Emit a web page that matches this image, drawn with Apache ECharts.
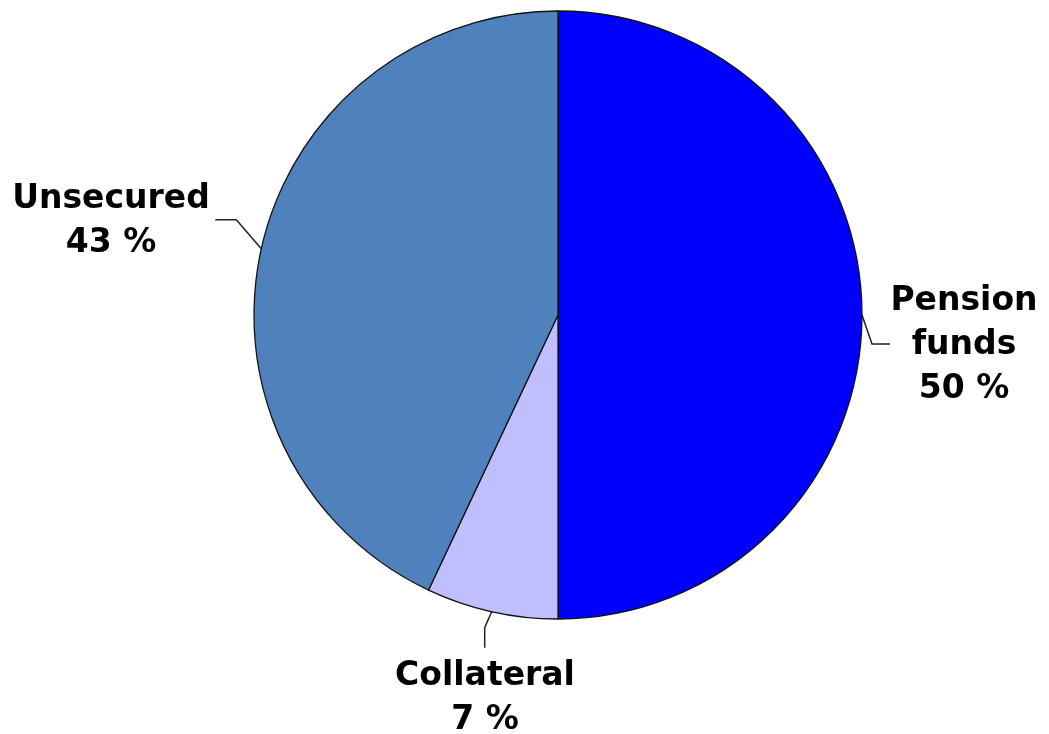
<!DOCTYPE html>
<html>
<head>
<meta charset="utf-8">
<title>Funding breakdown</title>
<script src="https://cdn.jsdelivr.net/npm/echarts@6/dist/echarts.min.js"></script>
<style>
  html, body { margin: 0; padding: 0; background: #ffffff; }
  #chart { width: 1049px; height: 734px; }
</style>
</head>
<body>
<div id="chart"></div>
<script>
// Slice names, label text and shares (percent)
const categories = ['Pension funds', 'Collateral', 'Unsecured'];
const labelNames = ['Pension\nfunds', 'Collateral', 'Unsecured'];
const shares = [50, 7, 43];
const colors = ['#0000ff', '#bfbfff', '#4f81bd'];

// Where each label block sits and how its leader line bends
const labelPlacement = [
  { x: 964, y: 345, elbow: [10, 29], end: [28, 29] },
  { x: 485, y: 698, elbow: [-7, 16], end: [-7, 36] },
  { x: 111, y: 221, elbow: [-25, -29], end: [-46, -29] }
];

const chart = echarts.init(document.getElementById('chart'), null, { renderer: 'canvas' });

chart.setOption({
  animation: false,
  backgroundColor: '#ffffff',
  series: [{
    type: 'pie',
    center: [558, 315],
    radius: [0, 304],
    startAngle: 90,
    clockwise: true,
    avoidLabelOverlap: false,
    data: categories.map((name, i) => ({
      name: name,
      value: shares[i],
      itemStyle: { color: colors[i] }
    })),
    itemStyle: { borderColor: '#111111', borderWidth: 1.3 },
    emphasis: { disabled: true },
    label: {
      show: true,
      position: 'outside',
      formatter: p => labelNames[p.dataIndex] + '\n' + p.value + ' %',
      fontFamily: '"DejaVu Sans", Verdana, sans-serif',
      fontWeight: 'bold',
      fontSize: 33,
      lineHeight: 44,
      color: '#000000',
      align: 'center'
    },
    labelLine: {
      show: true,
      length: 20,
      length2: 20,
      lineStyle: { color: '#222222', width: 1.5 }
    },
    labelLayout: function (params) {
      const lp = labelPlacement[params.dataIndex];
      const out = { x: lp.x, y: lp.y, align: 'center', verticalAlign: 'middle' };
      const pts = params.labelLinePoints;
      if (pts && pts.length) {
        const a = pts[0];
        out.labelLinePoints = [
          [a[0], a[1]],
          [a[0] + lp.elbow[0], a[1] + lp.elbow[1]],
          [a[0] + lp.end[0], a[1] + lp.end[1]]
        ];
      }
      return out;
    }
  }]
});
</script>
</body>
</html>
